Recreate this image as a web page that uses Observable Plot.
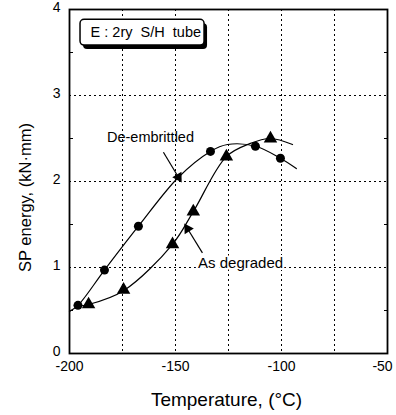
<!DOCTYPE html>
<html>
<head>
<meta charset="utf-8">
<script src="https://cdn.jsdelivr.net/npm/d3@7"></script>
<script src="https://cdn.jsdelivr.net/npm/@observablehq/plot@0.6"></script>
<style>
  html, body { margin: 0; padding: 0; background: #fff; }
  svg { display: block; }
</style>
</head>
<body>
<div id="chart"></div>
<script>
// Tick values
const xTicks = [-200, -150, -100];
const xTicksEdge = [-50];
const yTicks = [0, 1, 2, 3, 4];
const xGrid = [-175, -150, -125, -100, -75];
const yGrid = [1, 2, 3];
const yMinor = [0.5, 1.5, 2.5, 3.5];

// Measured points: De-embrittled (circles)
const deTemp = [-196, -183.5, -167.5, -133.5, -112.3, -100.5];
const deEnergy = [0.56, 0.97, 1.48, 2.35, 2.41, 2.27];

// Measured points: As degraded (triangles)
const agTemp = [-191, -174.5, -151.4, -141.6, -126, -105.2];
const agEnergy = [0.57, 0.74, 1.27, 1.65, 2.29, 2.50];

// Fitted curves
const deCurveTemp = [-200, -196, -183.5, -167.5, -148.6, -133.5, -125.5, -112.3, -100.5, -93];
const deCurveEnergy = [0.49, 0.56, 0.97, 1.48, 2.05, 2.35, 2.43, 2.41, 2.27, 2.15];
const agCurveTemp = [-196, -191, -174.5, -151.4, -141.6, -126, -115, -105.2, -94.8];
const agCurveEnergy = [0.55, 0.57, 0.73, 1.27, 1.65, 2.29, 2.44, 2.50, 2.43];

const toRows = (xs, ys) => xs.map((x, i) => ({x, y: ys[i]}));
const dePts = toRows(deTemp, deEnergy);
const agPts = toRows(agTemp, agEnergy);
const deCurve = toRows(deCurveTemp, deCurveEnergy);
const agCurve = toRows(agCurveTemp, agCurveEnergy);

const font = "'Liberation Sans', Arial, Helvetica, sans-serif";
const dash = "2,3";
const fmt = d => String(d);

// annotation arrows (data coordinates)
const arrows = [
  {x1: -155.7, y1: 2.34, x2: -148.6, y2: 2.05, rot: 149},
  {x1: -137.3, y1: 1.17, x2: -144.3, y2: 1.45, rot: -32}
];

const chart = Plot.plot({
  width: 396,
  height: 415,
  marginLeft: 69,
  marginRight: 9,
  marginTop: 9,
  marginBottom: 62,
  style: {fontFamily: font, background: "#fff", color: "#000"},
  x: {domain: [-200, -50]},
  y: {domain: [0, 4]},
  marks: [
    Plot.ruleX(xGrid, {stroke: "#000", strokeWidth: 1, strokeDasharray: dash}),
    Plot.ruleY(yGrid, {stroke: "#000", strokeWidth: 1, strokeDasharray: dash}),
    Plot.axisX(xTicks, {tickSize: 0, tickPadding: 8, fontSize: 14, tickFormat: fmt, label: null}),
    Plot.axisX(xTicksEdge, {tickSize: 0, tickPadding: 8, fontSize: 14, tickFormat: fmt, label: null, dx: -5}),
    Plot.axisY(yTicks, {tickSize: 0, tickPadding: 9, fontSize: 14, tickFormat: fmt, label: null, dy: -2}),
    Plot.axisY(yMinor, {anchor: "left", tickSize: -4, tickFormat: () => "", label: null}),
    Plot.axisY(yMinor, {anchor: "right", tickSize: -4, tickFormat: () => "", label: null}),
    Plot.frame({stroke: "#000", strokeWidth: 1.8}),
    Plot.line(deCurve, {x: "x", y: "y", curve: "catmull-rom", stroke: "#000", strokeWidth: 1.2}),
    Plot.line(agCurve, {x: "x", y: "y", curve: "catmull-rom", stroke: "#000", strokeWidth: 1.2}),
    Plot.dot(dePts, {x: "x", y: "y", r: 4.5, fill: "#000", symbol: "circle"}),
    Plot.dot(agPts, {x: "x", y: "y", r: 5, fill: "#000", symbol: "triangle"}),
    // annotation arrows
    Plot.link(arrows, {x1: "x1", y1: "y1", x2: "x2", y2: "y2", stroke: "#000", strokeWidth: 1.2}),
    Plot.dot(arrows, {x: "x2", y: "y2", r: 4, fill: "#000", symbol: "triangle", rotate: "rot"}),
    Plot.text(["De-embrittled"], {x: -161.8, y: 2.51, fontSize: 14.5, fill: "#000"}),
    Plot.text(["As degraded"], {x: -119.3, y: 1.05, fontSize: 15, fill: "#000", stroke: "#fff", strokeWidth: 4}),
    // legend box with drop shadow
    Plot.rect([0], {x1: -194.8, x2: -136.3, y1: 3.58, y2: 3.88, dx: 3, dy: 4, fill: "#000", rx: 4}),
    Plot.rect([0], {x1: -194.8, x2: -136.3, y1: 3.58, y2: 3.88, fill: "#fff", stroke: "#000", strokeWidth: 1.5, rx: 4}),
    Plot.text(["E : 2ry  S/H  tube"], {x: -164, y: 3.73, fontSize: 14.5, fill: "#000"}),
    // axis titles
    Plot.text(["SP energy, (kN·mm)"], {frameAnchor: "left", textAnchor: "middle", rotate: -90, dx: -44, dy: 16, fontSize: 16.5, fill: "#000"}),
    Plot.text(["Temperature, (°C)"], {frameAnchor: "bottom", textAnchor: "middle", dy: 52, dx: -2, fontSize: 19, fill: "#000"})
  ]
});
document.getElementById("chart").appendChild(chart);
</script>
</body>
</html>
